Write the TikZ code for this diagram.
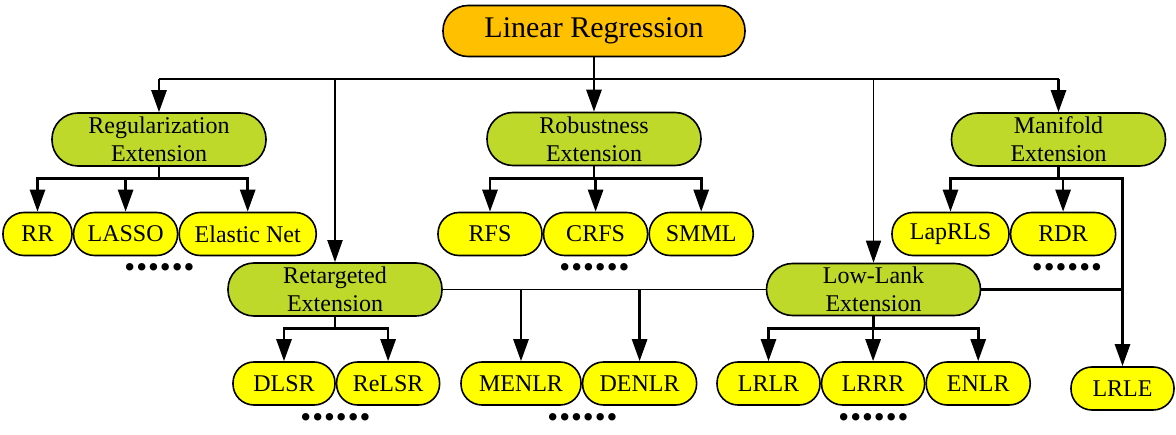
\documentclass[tikz,border=0pt]{standalone}
\usepackage{fontspec}
\setmainfont{Liberation Serif}
\usetikzlibrary{positioning, arrows.meta}
\definecolor{rootorange}{RGB}{255,192,0}
\definecolor{extgreen}{RGB}{191,217,43}
\definecolor{leafyellow}{RGB}{255,255,0}
\newcommand{\sixdots}{\textbullet\kern1pt\textbullet\kern1pt\textbullet\kern1pt\textbullet\kern1pt\textbullet\kern1pt\textbullet}

\begin{document}
\begin{tikzpicture}[x=1pt,y=1pt,
    root/.style={draw,line width=1.6pt,fill=rootorange,rounded corners=25pt,minimum width=302pt,minimum height=51pt,inner sep=0pt,font=\fontsize{30}{32}\selectfont},
    ext/.style={draw,line width=1.6pt,fill=extgreen,rounded corners=26pt,minimum width=214pt,minimum height=53pt,inner sep=0pt,align=center,font=\fontsize{24}{28}\selectfont},
    leaf/.style={draw,line width=1.6pt,fill=leafyellow,rounded corners=21pt,minimum height=43pt,inner sep=0pt,font=\fontsize{24}{26}\selectfont},
    dotrow/.style={inner sep=0pt,font=\fontsize{31}{32}\selectfont},
    link/.style={line width=2.7pt,-{Triangle[width=15pt,length=22pt]}},
    thinlink/.style={line width=2pt,-{Triangle[width=15pt,length=22pt]}}]
    \useasboundingbox (0,0) rectangle (1176,434);

    % Add the root and the extensions
        \node[root] (lr) at (594,403) {Linear Regression};
        \node[ext] (reg) at (159,294.5) {Regularization\\Extension};
        \node[ext] (rob) at (594,295) {Robustness\\Extension};
        \node[ext] (man) at (1058.5,294.5) {Manifold\\Extension};
        \node[ext] (ret) at (335,144.5) {Retargeted\\Extension};
        \node[ext,minimum height=52pt] (low) at (873.5,144.5) {Low-Lank\\Extension};

    % Add the methods
        \node[leaf,minimum width=69pt] (rr) at (37.5,200) {RR};
        \node[leaf,minimum width=104pt,right=0pt of rr] (lasso) {LASSO};
        \node[leaf,minimum width=137pt,right=0pt of lasso] (elastic) {Elastic Net};

        \node[leaf,minimum width=104pt] (rfs) at (490,200) {RFS};
        \node[leaf,minimum width=104pt,right=0pt of rfs] (crfs) {CRFS};
        \node[leaf,minimum width=104pt,right=0pt of crfs] (smml) {SMML};

        \node[leaf,minimum width=117pt] (laprls) at (950.5,200) {LapRLS};
        \node[leaf,minimum width=105pt,right=0pt of laprls] (rdr) {RDR};

        \node[leaf,minimum width=102pt] (dlsr) at (284,50.5) {DLSR};
        \node[leaf,minimum width=103pt,right=0pt of dlsr] (relsr) {ReLSR};

        \node[leaf,minimum width=120pt] (menlr) at (521,50.5) {MENLR};
        \node[leaf,minimum width=114pt,right=0pt of menlr] (denlr) {DENLR};

        \node[leaf,minimum width=103pt] (lrlr) at (768.5,50.5) {LRLR};
        \node[leaf,minimum width=103pt,right=0pt of lrlr] (lrrr) {LRRR};
        \node[leaf,minimum width=104pt,right=0pt of lrrr] (enlr) {ENLR};

        \node[leaf,minimum width=103pt] (lrle) at (1122.5,45.5) {LRLE};

    % Add the dots
        \node[dotrow] (regdots) at (159.5,163) {\sixdots};
        \node[dotrow] (robdots) at (594.5,163) {\sixdots};
        \node[dotrow] (mandots) at (1067,163) {\sixdots};
        \node[dotrow] (retdots) at (335.5,13) {\sixdots};
        \node[dotrow] (nlrdots) at (582.5,13) {\sixdots};
        \node[dotrow] (lowdots) at (873.5,13) {\sixdots};

    % Connect the root with the extensions
        \coordinate (bus) at (594,355);
        \draw[line width=2.7pt] (reg |- bus) -- (man |- bus);
        \draw[link] (lr) -- (rob);
        \draw[link] (reg |- bus) -- (reg);
        \draw[link] (man |- bus) -- (man);
        \draw[thinlink] (ret |- bus) -- (ret);
        \draw[thinlink,line width=1.6pt] (low |- bus) -- (low);

    % Connect the extensions with the methods
        \foreach \c in {rr,lasso,elastic}
            \draw[link] (reg.south) -- ++(0,-12) -| (\c);
        \foreach \c in {rfs,crfs,smml}
            \draw[link] (rob.south) -- ++(0,-12) -| (\c);
        \foreach \c in {laprls,rdr,lrle}
            \draw[link] (man.south) -- ++(0,-12) -| (\c);
        \foreach \c in {dlsr,relsr}
            \draw[link] (ret.south) -- ++(0,-12) -| (\c);
        \foreach \c in {lrlr,lrrr,enlr}
            \draw[link] (low.south) -- ++(0,-12) -| (\c);
        \draw[line width=1.5pt] (ret.east) -- (low.west);
        \draw[line width=2.7pt] (low.east) -- (low.east -| lrle);
        \foreach \c in {menlr,denlr}
            \draw[link] (\c |- low.west) -- (\c);
\end{tikzpicture}
\end{document}
